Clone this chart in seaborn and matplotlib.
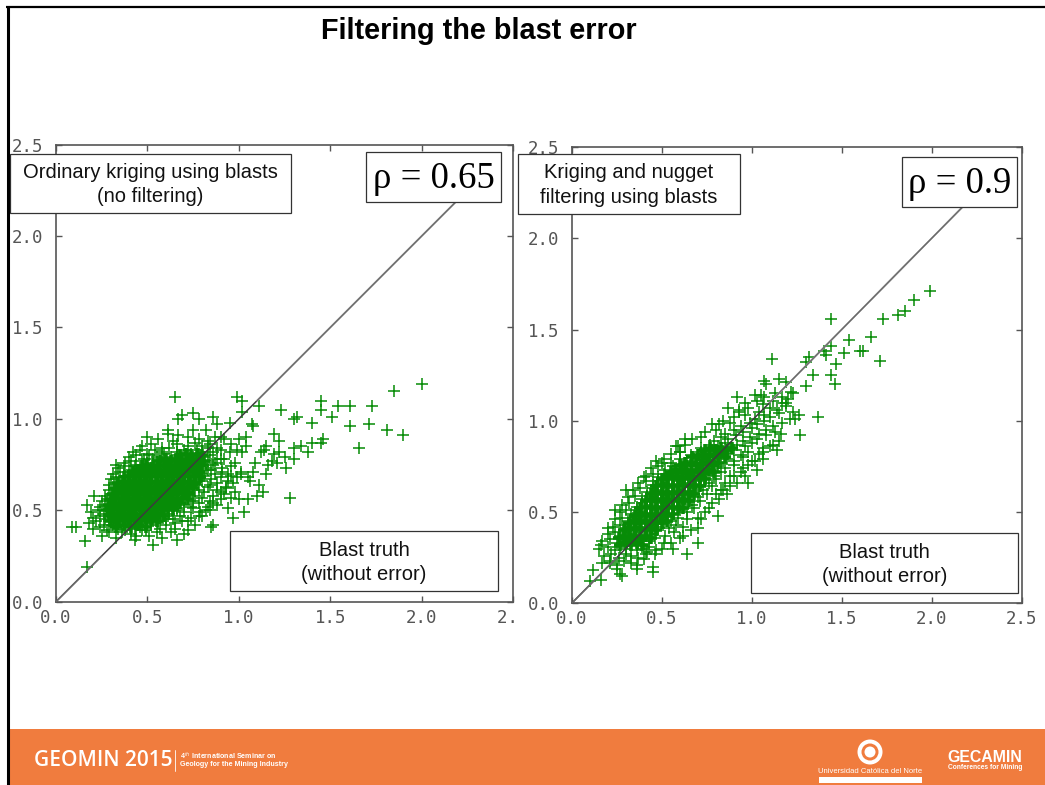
import numpy as np
import pandas as pd
import seaborn as sns
import matplotlib.pyplot as plt
from matplotlib.patches import Rectangle, Circle

#--Values (dense core is a hand estimate)
ticks = [0, 0.5, 1.0, 1.5, 2.0, 2.5]
tick_labels = ['0.0', '0.5', '1.0', '1.5', '2.0', '2.5']
left_xlabels = ['0.0', '0.5', '1.0', '1.5', '2.0', '2. ']
diag = [0, 2.3]

left_outer = [(2.00,1.19),(1.85,1.15),(1.73,1.07),(1.61,1.07),(1.54,1.07),(1.45,1.10),(1.45,1.05),(1.51,1.01),
    (1.61,.96),(1.71,.97),(1.81,.94),(1.90,.91),(1.66,.84),(1.28,.57),(1.23,1.05),(1.30,1.00),(1.32,1.01),(1.40,.98),
    (1.11,1.07),(1.02,1.10),(.99,1.12),(.65,1.12),(1.02,1.04),(1.07,.97),(1.08,.96),(1.19,.92),(1.46,.89),(1.40,.87),
    (1.45,.87),(1.34,.85),(1.30,.84),(1.38,.82),(1.30,.78),(1.26,.73),(1.15,.70),(1.11,.64),(1.10,.58),(1.05,.56),
    (1.00,.56),(1.03,.49),(.97,.46),(.94,.51),(.86,.42),(.85,.41),(.66,.34),(.53,.31),(.43,.34),(.17,.19),(.16,.33),
    (.11,.41),(.09,.41),(.17,.53),(.21,.58),(.33,.75),(.50,.90),(.61,.94),(.69,1.02),(.75,1.03),(.78,1.00),(.86,1.01),
    (.67,1.00),(.61,.92),(.67,.91),(.75,.94),(.82,.94),(.88,.97),(.95,.98),(.90,.90),(1.00,.89),(1.04,.90),(.99,.83),
    (1.04,.85),(1.15,.85),(1.19,.81),(1.22,.88),(1.25,.79),(1.09,.76),(1.01,.70),(1.05,.68),(1.16,.75),(1.22,.82),
    (1.12,.82),(1.18,.77),(1.08,.71),(1.13,.60),(1.06,.66),(1.14,.83),(1.21,.76),(.98,.76),(1.02,.82),(.96,.86),
    (.78,.47),(.82,.50),(.86,.54),(.90,.60),(.94,.70),(.85,.72),(.90,.78),(.95,.82),(.72,.44),(.76,.42),(.70,.37)]

left_core = [(.25,.36),(.29,.38),(.33,.35),(.36,.38),(.41,.37),(.44,.36),(.47,.39),(.51,.36),(.55,.38),(.58,.35),(.63,.38),
    (.20,.40),(.24,.41),(.28,.39),(.31,.42),(.34,.40),(.38,.39),(.40,.42),(.43,.40),(.46,.41),(.49,.39),(.52,.42),(.57,.40),(.60,.42),(.65,.40),(.72,.39),
    (.18,.43),(.22,.44),(.26,.42),(.29,.44),(.32,.43),(.35,.45),(.38,.43),(.41,.44),(.44,.42),(.47,.45),(.50,.43),(.53,.44),(.56,.43),(.60,.45),(.65,.43),(.69,.44),
    (.20,.46),(.24,.47),(.27,.45),(.30,.47),(.33,.46),(.36,.48),(.39,.46),(.42,.47),(.45,.45),(.48,.47),(.51,.46),(.54,.48),(.57,.46),(.61,.47),(.64,.45),(.68,.47),(.74,.46),(.80,.47),
    (.19,.49),(.23,.50),(.26,.48),(.29,.50),(.32,.49),(.35,.51),(.38,.49),(.41,.50),(.44,.48),(.47,.50),(.50,.49),(.53,.51),(.56,.49),(.59,.50),(.62,.48),(.66,.50),(.70,.49),(.75,.51),(.79,.49),(.84,.50),
    (.24,.52),(.27,.53),(.30,.51),(.33,.53),(.36,.52),(.39,.54),(.42,.52),(.45,.53),(.48,.51),(.51,.53),(.54,.52),(.57,.54),(.60,.52),(.63,.53),(.66,.51),(.70,.53),(.74,.52),(.78,.54),(.83,.52),(.88,.53),
    (.25,.55),(.28,.56),(.31,.54),(.34,.56),(.37,.55),(.40,.57),(.43,.55),(.46,.56),(.49,.54),(.52,.56),(.55,.55),(.58,.57),(.61,.55),(.64,.56),(.67,.54),(.71,.56),(.75,.55),(.80,.57),(.84,.55),(.90,.56),
    (.27,.58),(.30,.59),(.33,.57),(.36,.59),(.39,.58),(.42,.60),(.45,.58),(.48,.59),(.51,.57),(.54,.59),(.57,.58),(.60,.60),(.63,.58),(.66,.59),(.69,.57),(.72,.59),(.76,.58),(.81,.60),(.86,.58),(.92,.59),(.96,.57),
    (.29,.61),(.32,.62),(.35,.60),(.38,.62),(.41,.61),(.44,.63),(.47,.61),(.50,.62),(.53,.60),(.56,.62),(.59,.61),(.62,.63),(.65,.61),(.68,.62),(.71,.60),(.74,.62),(.78,.61),(.83,.63),(.88,.61),(.93,.62),(.98,.60),
    (.29,.64),(.32,.65),(.35,.63),(.38,.65),(.41,.64),(.44,.66),(.47,.64),(.50,.65),(.53,.63),(.56,.65),(.59,.64),(.62,.66),(.65,.64),(.68,.65),(.71,.63),(.74,.65),(.77,.64),(.80,.66),(.84,.64),(.88,.65),(.93,.63),(.97,.65),
    (.30,.67),(.33,.68),(.36,.66),(.39,.68),(.42,.67),(.45,.69),(.48,.67),(.51,.68),(.54,.66),(.57,.68),(.60,.67),(.63,.69),(.66,.67),(.69,.68),(.72,.66),(.75,.68),(.78,.67),(.81,.69),(.85,.67),(.90,.68),(.94,.66),(.99,.68),
    (.31,.70),(.35,.71),(.38,.69),(.41,.71),(.44,.70),(.47,.72),(.50,.70),(.53,.71),(.56,.69),(.59,.71),(.62,.70),(.65,.72),(.68,.70),(.71,.71),(.74,.69),(.77,.71),(.80,.70),(.83,.72),(.87,.70),(.91,.71),(.96,.69),(1.01,.71),
    (.34,.73),(.37,.74),(.40,.72),(.43,.74),(.46,.73),(.49,.75),(.52,.73),(.55,.74),(.58,.72),(.61,.74),(.64,.73),(.67,.75),(.70,.73),(.73,.74),(.76,.72),(.79,.74),(.82,.73),(.86,.75),(.91,.73),(.96,.74),
    (.38,.76),(.41,.77),(.44,.75),(.47,.77),(.50,.76),(.53,.78),(.56,.76),(.59,.77),(.62,.75),(.65,.77),(.68,.76),(.71,.78),(.74,.76),(.77,.77),(.80,.75),(.83,.77),(.87,.76),(.92,.78),
    (.40,.79),(.44,.80),(.48,.78),(.51,.80),(.55,.79),(.59,.81),(.63,.79),(.66,.80),(.69,.78),(.72,.80),(.75,.79),(.78,.81),(.81,.79),(.84,.80),(.88,.78),
    (.42,.82),(.46,.83),(.50,.81),(.54,.83),(.58,.82),(.62,.84),(.66,.82),(.70,.83),(.74,.81),(.77,.83),(.80,.82),(.83,.84),(.86,.82),(.90,.83),
    (.47,.85),(.52,.86),(.58,.84),(.66,.86),(.72,.85),(.76,.87),(.80,.85),(.84,.86),(.88,.84),
    (.56,.89),(.64,.88),(.72,.90),(.78,.89),(.83,.88),(.87,.90),(.92,.89)]

#solid part of the left cloud
left_dense = [(.33,.41),(.37,.42),(.41,.41),(.45,.42),(.49,.41),
    (.30,.44),(.34,.45),(.37,.44),(.40,.45),(.43,.44),(.46,.45),(.49,.44),(.52,.45),(.55,.44),
    (.29,.47),(.32,.48),(.35,.47),(.38,.48),(.41,.47),(.44,.48),(.47,.47),(.50,.48),(.53,.47),(.56,.48),(.59,.47),
    (.28,.50),(.31,.51),(.34,.50),(.37,.51),(.40,.50),(.43,.51),(.46,.50),(.49,.51),(.52,.50),(.55,.51),(.58,.50),(.61,.51),(.64,.50),
    (.29,.53),(.32,.54),(.35,.53),(.38,.54),(.41,.53),(.44,.54),(.47,.53),(.50,.54),(.53,.53),(.56,.54),(.59,.53),(.62,.54),(.65,.53),(.68,.54),
    (.30,.56),(.33,.57),(.36,.56),(.39,.57),(.42,.56),(.45,.57),(.48,.56),(.51,.57),(.54,.56),(.57,.57),(.60,.56),(.63,.57),(.66,.56),(.69,.57),(.72,.56),
    (.31,.59),(.34,.60),(.37,.59),(.40,.60),(.43,.59),(.46,.60),(.49,.59),(.52,.60),(.55,.59),(.58,.60),(.61,.59),(.64,.60),(.67,.59),(.70,.60),(.73,.59),
    (.33,.62),(.36,.63),(.39,.62),(.42,.63),(.45,.62),(.48,.63),(.51,.62),(.54,.63),(.57,.62),(.60,.63),(.63,.62),(.66,.63),(.69,.62),(.72,.63),(.75,.62),
    (.34,.65),(.37,.66),(.40,.65),(.43,.66),(.46,.65),(.49,.66),(.52,.65),(.55,.66),(.58,.65),(.61,.66),(.64,.65),(.67,.66),(.70,.65),(.73,.66),(.76,.65),
    (.37,.68),(.40,.69),(.43,.68),(.46,.69),(.49,.68),(.52,.69),(.55,.68),(.58,.69),(.61,.68),(.64,.69),(.67,.68),(.70,.69),(.73,.68),(.76,.69),(.79,.68),
    (.42,.71),(.45,.72),(.48,.71),(.51,.72),(.54,.71),(.57,.72),(.60,.71),(.63,.72),(.66,.71),(.69,.72),(.72,.71),(.75,.72),(.78,.71),
    (.47,.74),(.50,.75),(.53,.74),(.56,.75),(.59,.74),(.62,.75),(.65,.74),(.68,.75),(.71,.74),(.74,.75),(.77,.74),(.80,.75),
    (.57,.77),(.60,.78),(.63,.77),(.66,.78),(.69,.77),(.72,.78),(.75,.77),(.78,.78),(.81,.77),
    (.68,.80),(.71,.81),(.74,.80),(.77,.81),(.80,.80)]

right_outer = [(1.99,1.71),(1.90,1.66),(1.85,1.60),(1.81,1.58),(1.73,1.56),(1.44,1.56),(1.66,1.46),(1.54,1.44),(1.51,1.37),
    (1.60,1.38),(1.62,1.38),(1.71,1.33),(1.11,1.34),(1.44,1.41),(1.40,1.38),(1.41,1.36),(1.32,1.35),(1.30,1.32),(1.47,1.31),
    (1.44,1.25),(1.46,1.20),(1.34,1.25),(1.30,1.19),(1.15,1.23),(1.07,1.22),(1.08,1.20),(1.19,1.21),(1.23,1.15),(1.37,1.02),
    (1.27,.92),(1.26,1.03),(1.24,1.01),(.92,1.13),(.87,1.07),(1.02,1.14),(1.07,1.13),(.93,1.05),(1.19,1.10),(1.16,.93),
    (1.14,.84),(1.06,.79),(1.03,.73),(.98,.66),(.81,.48),(.70,.41),(.70,.33),(.64,.27),(.62,.37),(.45,.20),(.45,.17),
    (.28,.15),(.27,.16),(.16,.13),(.10,.12),(.12,.18),(.16,.32),(.20,.41),(.24,.51),(.30,.62),(.40,.69),(.50,.77),(.59,.86),
    (.60,.83),(.67,.90),(.78,.98),(.84,1.00),(.21,.22),(.25,.19),
    (.72,.46),(.76,.52),(.74,.50),(.70,.47),(.78,.55),(.82,.57),(.86,.60),(.80,.60),(.88,.64),(.92,.66),(.84,.62),(.90,.70),
    (.94,.72),(.98,.76),(1.02,.78),(.96,.70),(1.06,.83),(1.10,.86),(.66,.40),(.60,.36),(.55,.33),(.50,.30),(.56,.30),(.46,.27),
    (.40,.24),(.36,.19),(.42,.28)]

right_core = [(.17,.22),(.21,.23),(.25,.21),(.29,.23),(.33,.22),(.36,.21),
    (.18,.26),(.22,.27),(.26,.25),(.30,.27),(.33,.26),(.37,.25),(.41,.27),
    (.15,.30),(.20,.31),(.24,.29),(.27,.31),(.30,.30),(.33,.32),(.36,.29),(.40,.30),(.43,.31),(.47,.29),
    (.17,.34),(.21,.35),(.25,.33),(.28,.35),(.31,.34),(.34,.36),(.37,.33),(.40,.35),(.43,.34),(.46,.36),(.51,.33),
    (.20,.38),(.24,.39),(.27,.37),(.30,.39),(.33,.38),(.36,.40),(.39,.37),(.42,.39),(.45,.38),(.48,.40),(.52,.37),(.57,.39),
    (.23,.42),(.27,.43),(.30,.41),(.33,.43),(.36,.42),(.39,.44),(.42,.41),(.45,.43),(.48,.42),(.51,.44),(.54,.41),(.58,.43),(.62,.42),
    (.24,.46),(.28,.47),(.31,.45),(.34,.47),(.37,.46),(.40,.48),(.43,.45),(.46,.47),(.49,.46),(.52,.48),(.55,.45),(.59,.47),(.64,.46),
    (.27,.50),(.30,.51),(.33,.49),(.36,.51),(.39,.50),(.42,.52),(.45,.49),(.48,.51),(.51,.50),(.54,.52),(.57,.49),(.60,.51),(.64,.50),(.68,.52),
    (.28,.54),(.32,.55),(.36,.53),(.39,.55),(.42,.54),(.45,.56),(.48,.53),(.51,.55),(.54,.54),(.57,.56),(.60,.53),(.63,.55),(.67,.54),(.71,.56),
    (.31,.58),(.35,.59),(.39,.57),(.42,.59),(.45,.58),(.48,.60),(.51,.57),(.54,.59),(.57,.58),(.60,.60),(.63,.57),(.66,.59),(.70,.58),(.75,.60),
    (.34,.62),(.38,.63),(.42,.61),(.45,.63),(.48,.62),(.51,.64),(.54,.61),(.57,.63),(.60,.62),(.63,.64),(.66,.61),(.69,.63),(.73,.62),(.78,.64),(.83,.62),
    (.37,.66),(.41,.67),(.45,.65),(.48,.67),(.51,.66),(.54,.68),(.57,.65),(.60,.67),(.63,.66),(.66,.68),(.69,.65),(.72,.67),(.76,.66),(.80,.68),(.85,.66),
    (.41,.70),(.45,.71),(.48,.69),(.51,.71),(.54,.70),(.57,.72),(.60,.69),(.63,.71),(.66,.70),(.69,.72),(.72,.69),(.75,.71),(.79,.70),(.83,.72),(.88,.70),
    (.44,.74),(.48,.75),(.52,.73),(.56,.75),(.60,.74),(.63,.76),(.66,.73),(.69,.75),(.72,.74),(.75,.76),(.78,.73),(.81,.75),(.85,.74),(.90,.76),(.95,.74),
    (.47,.78),(.51,.79),(.55,.77),(.60,.79),(.64,.78),(.68,.80),(.71,.77),(.74,.79),(.77,.78),(.80,.80),(.83,.77),(.86,.79),(.90,.78),(.95,.80),(1.00,.78),
    (.55,.82),(.60,.83),(.66,.81),(.72,.83),(.75,.82),(.78,.84),(.81,.81),(.84,.83),(.87,.82),(.90,.84),(.94,.81),(.98,.83),(1.04,.82),
    (.58,.86),(.63,.87),(.72,.85),(.77,.87),(.81,.86),(.85,.88),(.88,.85),(.92,.87),(.96,.86),(1.00,.88),(1.06,.85),(1.12,.87),
    (.63,.90),(.72,.91),(.79,.89),(.83,.91),(.87,.90),(.91,.92),(.95,.89),(.99,.91),(1.03,.90),(1.08,.92),(1.15,.89),
    (.74,.94),(.80,.95),(.85,.93),(.90,.95),(.95,.94),(1.00,.96),(1.04,.93),(1.08,.95),(1.13,.94),
    (.82,.98),(.88,.99),(.94,.97),(.99,.99),(1.03,.98),(1.07,1.00),(1.12,.97),(1.17,.99),
    (.90,1.02),(.96,1.03),(1.02,1.01),(1.07,1.03),(1.10,1.02),(1.15,1.04),(1.21,1.01),
    (.93,1.06),(.98,1.07),(1.04,1.05),(1.10,1.07),(1.14,1.06),(1.19,1.08),(1.23,1.05),
    (.96,1.10),(1.03,1.11),(1.06,1.09),(1.12,1.11),(1.17,1.10),(1.20,1.12),
    (1.05,1.14),(1.13,1.15),(1.17,1.13),(1.22,1.16)]

#solid part of the right cloud
right_dense = [(.27,.32),(.30,.33),(.33,.32),(.36,.33),(.39,.32),
    (.26,.36),(.29,.37),(.32,.36),(.35,.37),(.38,.36),(.41,.37),(.44,.36),
    (.29,.40),(.32,.41),(.35,.40),(.38,.41),(.41,.40),(.44,.41),(.47,.40),
    (.32,.44),(.35,.45),(.38,.44),(.41,.45),(.44,.44),(.47,.45),(.50,.44),(.53,.45),
    (.35,.48),(.38,.49),(.41,.48),(.44,.49),(.47,.48),(.50,.49),(.53,.48),(.56,.49),
    (.38,.52),(.41,.53),(.44,.52),(.47,.53),(.50,.52),(.53,.53),(.56,.52),(.59,.53),(.62,.52),
    (.41,.56),(.44,.57),(.47,.56),(.50,.57),(.53,.56),(.56,.57),(.59,.56),(.62,.57),(.65,.56),
    (.44,.60),(.47,.61),(.50,.60),(.53,.61),(.56,.60),(.59,.61),(.62,.60),(.65,.61),(.68,.60),
    (.47,.64),(.50,.65),(.53,.64),(.56,.65),(.59,.64),(.62,.65),(.65,.64),(.68,.65),(.71,.64),
    (.50,.68),(.53,.69),(.56,.68),(.59,.69),(.62,.68),(.65,.69),(.68,.68),(.71,.69),(.74,.68),
    (.55,.72),(.58,.73),(.61,.72),(.64,.73),(.67,.72),(.70,.73),(.73,.72),(.76,.73),(.79,.72),
    (.60,.76),(.63,.77),(.66,.76),(.69,.77),(.72,.76),(.75,.77),(.78,.76),(.81,.77),
    (.67,.80),(.70,.81),(.73,.80),(.76,.81),(.79,.80),(.82,.81),(.85,.80),
    (.74,.84),(.77,.85),(.80,.84),(.83,.85),(.86,.84),(.89,.85)]

df_left = pd.DataFrame(left_outer + left_core, columns=['x', 'y'])
df_right = pd.DataFrame(right_outer + right_core, columns=['x', 'y'])
df_left_dense = pd.DataFrame(left_dense, columns=['x', 'y'])
df_right_dense = pd.DataFrame(right_dense, columns=['x', 'y'])

#--Colours
green = '#078c07'
axis_grey = '#555555'
line_grey = '#6a6a6a'
orange = '#f07c3e'

sns.set_theme(style='white')
plt.rcParams['font.family'] = ['Liberation Sans', 'DejaVu Sans']

W, H = 1045, 785
fig = plt.figure(figsize=(W / 100, H / 100), dpi=100, facecolor='white')


def make_panel(box, df, df_dense, xlabels):
    x0, y0, x1, y1 = box
    ax = fig.add_axes([x0 / W, 1 - y1 / H, (x1 - x0) / W, (y1 - y0) / H])
    sns.lineplot(x=diag, y=diag, color='#3c3c3c', linewidth=1.1, ax=ax, zorder=3)
    sns.scatterplot(data=df, x='x', y='y', marker='+', s=75, linewidth=1.1, color=green, alpha=1, ax=ax, zorder=2)
    #thick crosses, the overlap is solid green in the picture
    sns.scatterplot(data=df_dense, x='x', y='y', marker='+', s=75, linewidth=2.6, color=green, alpha=1, ax=ax, zorder=2)
    ax.set_xlim(0, 2.5)
    ax.set_ylim(0, 2.5)
    ax.set_xticks(ticks)
    ax.set_yticks(ticks)
    ax.set_xticklabels(xlabels, family='DejaVu Sans Mono', fontsize=12.5, color=axis_grey)
    ax.set_yticklabels(tick_labels, family='DejaVu Sans Mono', fontsize=12.5, color=axis_grey)
    ax.tick_params(direction='in', top=True, right=True, length=4.5, width=1, color=axis_grey, bottom=True, left=True)
    ax.tick_params(axis='y', pad=9)
    ax.tick_params(axis='x', pad=5)
    ax.set_xlabel('')
    ax.set_ylabel('')
    for s in ax.spines.values():
        s.set_visible(True)
        s.set_color(axis_grey)
        s.set_linewidth(1.2)
    return ax


ax1 = make_panel((56, 144.7, 513, 601.7), df_left, df_left_dense, left_xlabels)
ax2 = make_panel((571.7, 147, 1021.7, 603.3), df_right, df_right_dense, tick_labels)

#the diagonal is grey outside the clouds
for ax in [ax1, ax2]:
    sns.lineplot(x=[1.1, diag[1]], y=[1.1, diag[1]], color='white', linewidth=1.1, ax=ax, zorder=3.1)
    sns.lineplot(x=[1.1, diag[1]], y=[1.1, diag[1]], color=line_grey, linewidth=1.1, ax=ax, zorder=3.2)
    sns.lineplot(x=[0, 0.25], y=[0, 0.25], color=line_grey, linewidth=1.1, ax=ax, zorder=3.2)
    ax.set_xlabel('')
    ax.set_ylabel('')

#--Overlay in pixel coordinates for the slide furniture
ov = fig.add_axes([0, 0, 1, 1], zorder=5)
ov.set_xlim(0, W)
ov.set_ylim(H, 0)
ov.axis('off')
ov.patch.set_alpha(0)


def label_box(x0, y0, x1, y1, lines=None, txt=None, size=14.5):
    ov.add_patch(Rectangle((x0, y0), x1 - x0, y1 - y0, facecolor='white', edgecolor='#333333', linewidth=0.9))
    if txt:
        ov.text((x0 + x1) / 2, (y0 + y1) / 2 + 1.5, txt, family='Liberation Serif', fontsize=26.5, color='black',
                ha='center', va='center')
    if lines:
        cy = (y0 + y1) / 2
        ov.text((x0 + x1) / 2, cy - 11, lines[0], fontsize=size, color='#111111', ha='center', va='center')
        ov.text((x0 + x1) / 2, cy + 13.5, lines[1], fontsize=size, color='#111111', ha='center', va='center')


label_box(10, 154, 291, 213, ['Ordinary kriging using blasts', '(no filtering)'])
label_box(366, 152, 501, 202, txt='ρ = 0.65')
label_box(518, 154, 740, 214, ['Kriging and nugget', 'filtering using blasts'])
label_box(902, 157, 1017, 207, txt='ρ = 0.9')
label_box(230, 531, 498, 591, ['Blast truth', '(without error)'])
label_box(751, 533, 1018, 593, ['Blast truth', '(without error)'])

ov.text(479, 31, 'Filtering the blast error', fontsize=20.8, fontweight='bold', color='black', ha='center', va='center')

#--Slide border and footer
ov.plot([7.5, 7.5], [6, H], color='black', linewidth=2.2, solid_capstyle='butt')
ov.plot([6, W], [7, 7], color='black', linewidth=1.6, solid_capstyle='butt')
ov.add_patch(Rectangle((10, 729), W - 10, H - 729, facecolor=orange, edgecolor='none'))
ov.text(34, 760, 'GEOMIN 2015', family='Open Sans', fontsize=15, fontweight='semibold', color='white', ha='left', va='center')
ov.plot([174.5, 174.5], [750, 771], color='white', linewidth=0.6)
ov.text(180, 755.5, '4$^{th}$ International Seminar on', fontsize=5.1, fontweight='bold', color='white', ha='left', va='center')
ov.text(180, 764.5, 'Geology for the Mining Industry', fontsize=5.1, fontweight='bold', color='white', ha='left', va='center')
ov.add_patch(Circle((870, 752), 12.5, facecolor='white', edgecolor='none'))
ov.add_patch(Circle((870, 752), 8.5, facecolor=orange, edgecolor='none'))
ov.add_patch(Circle((870, 752), 5.5, facecolor='white', edgecolor='none'))
ov.text(870.5, 771.5, 'Universidad Católica del Norte', fontsize=5.5, color='white', ha='center', va='center')
ov.add_patch(Rectangle((819, 776.5), 103, 6.5, facecolor='white', edgecolor='none'))
ov.text(985, 758, 'GECAMIN', fontsize=11.4, fontweight='bold', color='white', ha='center', va='center')
ov.text(985, 767.5, 'Conferences for Mining', fontsize=4.8, fontweight='bold', color='white', ha='center', va='center')

fig.savefig('out.png', dpi=100)
